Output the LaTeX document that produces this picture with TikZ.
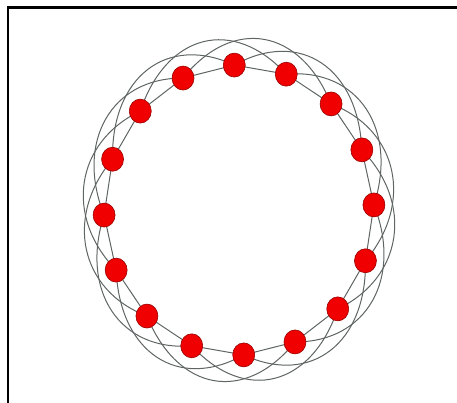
\documentclass[tikz,border=0pt]{standalone}
\usepackage{tikz}
\usetikzlibrary{shapes.geometric}
\definecolor{strand}{RGB}{95,100,100}
\definecolor{beadred}{RGB}{240,0,0}
\tikzset{
  bead/.style={
    ellipse,
    draw=red!60!black,
    line width=0.6pt,
    fill=beadred,
    minimum width=22pt,
    minimum height=24pt,
    inner sep=0pt
  },
  ringline/.style={draw=strand, line width=1pt},
  strandline/.style={draw=strand, line width=1pt},
  frame/.style={draw=black, line width=2.5pt}
}

\begin{document}
\begin{tikzpicture}[x=1pt,y=1pt]
  \useasboundingbox (0,0) rectangle (457,403);
  \coordinate (fbl) at (8,0);
  \coordinate (ftl) at (8,395.5);
  \coordinate (ftr) at (457,395.5);
  \draw[frame] (fbl) -- (ftl) -- (ftr);

  % bead positions on the ring
  \foreach \i in {0,...,15}{
    \coordinate (p\i) at ({239+135*cos(92-22.5*\i)},{193+145*sin(92-22.5*\i)});
  }

  % outer strands, each bead to the third one on
  \foreach \i [evaluate=\i as \j using {int(mod(\i+3,16))},
               evaluate=\i as \a using {92-22.5*\i}] in {0,...,15}{
    \draw[strandline] (p\i) .. controls ({239+175*cos(\a-22.5)},{193+194*sin(\a-22.5)})
      and ({239+175*cos(\a-45)},{193+194*sin(\a-45)}) .. (p\j);
  }

  % inner ring
  \foreach \i [evaluate=\i as \j using {int(mod(\i+1,16))}] in {0,...,15}{
    \draw[ringline] (p\i) -- (p\j);
  }

  % beads
  \foreach \i in {0,...,15}{
    \node[bead] (b\i) at (p\i) {};
  }
\end{tikzpicture}
\end{document}
